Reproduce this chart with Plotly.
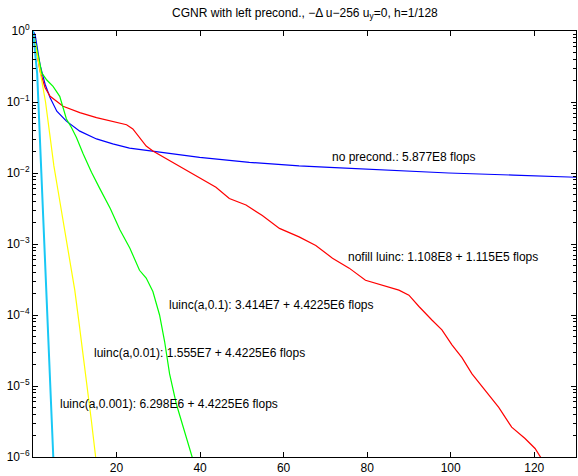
import plotly.graph_objects as go

# ---- data (iteration, log10 of relative residual) ----
blue_it = [0, 0.5, 1.7, 2.9, 4.1, 5.7, 8.0, 11.2, 15.2, 19.1, 23.1, 27.9, 35.1, 39.9, 51.8, 63.7, 71.0, 85.0, 99.5, 115.0, 130.0]
blue_lg = [0, -0.05, -0.48, -0.75, -0.94, -1.13, -1.27, -1.41, -1.52, -1.59, -1.65, -1.69, -1.74, -1.78, -1.85, -1.90, -1.92, -1.96, -2.00, -2.03, -2.06]

red_it = [0, 0.6, 1.7, 2.9, 4.1, 7.2, 11.2, 15.2, 19.2, 22.4, 23.9, 25.5, 27.1, 28.7, 31.1, 35.1, 39.9, 43.8, 47.0, 51.0,
          54.9, 59.0, 63.7, 67.7, 71.7, 75.7, 79.6, 83.6, 87.6, 90.0, 92.4, 95.5, 97.9, 100.3, 102.7, 105.1, 108.3,
          111.5, 114.6, 117.8, 120.2, 121.6, 122.5]
red_lg = [0, -0.2, -0.57, -0.80, -0.92, -1.06, -1.15, -1.22, -1.28, -1.32, -1.38, -1.50, -1.62, -1.69, -1.77, -1.90, -2.06,
          -2.20, -2.36, -2.45, -2.60, -2.78, -2.90, -3.02, -3.20, -3.34, -3.51, -3.58, -3.65, -3.72, -3.88, -4.07, -4.21,
          -4.42, -4.60, -4.83, -5.07, -5.30, -5.58, -5.74, -5.88, -6.01, -6.2]

green_it = [0, 1.3, 2.1, 3.3, 4.8, 6.4, 7.2, 8.0, 9.2, 10.4, 12.0, 14.0, 16.0, 18.5, 20.8, 23.2, 25.5, 27.1, 28.7,
            30.3, 31.5, 32.7, 34.3, 36.3, 38.1, 38.8]
green_lg = [0, -0.38, -0.59, -0.69, -0.78, -0.92, -1.08, -1.24, -1.36, -1.50, -1.73, -1.99, -2.22, -2.50, -2.80,
            -3.06, -3.37, -3.48, -3.67, -4.00, -4.37, -4.83, -5.25, -5.63, -6.00, -6.15]

yellow_it = list(range(0, 17))
yellow_lg = [0, -0.35, -0.70, -1.00, -1.45, -1.90, -2.25, -2.60, -2.95, -3.30, -3.65, -4.10, -4.55, -5.00, -5.50, -6.00, -6.50]

cyan_it = [0, 1, 2, 3, 4, 5]
cyan_lg = [0, -0.6, -2.0, -3.4, -4.8, -6.2]

x_ticks = [20, 40, 60, 80, 100, 120]
y_exps = [0, -1, -2, -3, -4, -5, -6]

labels = [
    ("no precond.: 5.877E8 flops", 71.1, -1.77),
    ("nofill luinc: 1.108E8 + 1.115E5 flops", 74.9, -3.19),
    ("luinc(a,0.1): 3.414E7 + 4.4225E6 flops", 32.0, -3.86),
    ("luinc(a,0.01): 1.555E7 + 4.4225E6 flops", 14.1, -4.53),
    ("luinc(a,0.001): 6.298E6 + 4.4225E6 flops", 6.0, -5.25),
]

FONT = "Liberation Sans, Arial, Helvetica, sans-serif"

series = [
    (blue_it, blue_lg, "#0000ff", 1.2),
    (red_it, red_lg, "#ff0000", 1.2),
    (green_it, green_lg, "#00ff00", 1.2),
    (yellow_it, yellow_lg, "#ffff00", 1.2),
    (cyan_it, cyan_lg, "#19c8f5", 2.0),
]

fig = go.Figure()
for xs, lg, col, w in series:
    fig.add_trace(go.Scatter(x=xs, y=[10 ** v for v in lg], mode="lines",
                             line=dict(color=col, width=w), showlegend=False,
                             hoverinfo="skip"))

for txt, xv, yv in labels:
    fig.add_annotation(x=xv, y=yv, text=txt, showarrow=False, xanchor="left",
                       yanchor="middle", font=dict(family=FONT, size=12, color="black"))

minor_vals = [k * 10.0 ** d for d in range(-6, 0) for k in range(2, 10)]

fig.update_layout(
    width=578, height=476,
    margin=dict(l=33, r=1, t=31, b=16),
    paper_bgcolor="white", plot_bgcolor="white",
    title=dict(text="CGNR with left precond., \u2212\u0394 u\u2212256 u<sub>y</sub>=0, h=1/128",
               x=0.5276, xanchor="center", y=0.974, yref="container",
               yanchor="middle", font=dict(family=FONT, size=12, color="black")),
    font=dict(family=FONT, size=12, color="black"),
)
fig.update_xaxes(range=[0, 130], showgrid=False, zeroline=False, showline=True, linecolor="black",
                 linewidth=1, mirror="ticks", ticks="inside", ticklen=5, tickcolor="black",
                 tickmode="array", tickvals=x_ticks, ticktext=[str(v) for v in x_ticks],
                 tickfont=dict(family=FONT, size=12, color="black"))
fig.update_yaxes(type="log", range=[-6, 0], showgrid=False, zeroline=False, showline=True,
                 linecolor="black", linewidth=1, mirror="ticks", ticks="inside", ticklen=5,
                 tickcolor="black", tickmode="array", tickvals=[10.0 ** e for e in y_exps],
                 ticktext=["10<sup>%s</sup>" % (str(e).replace("-", "\u2212")) for e in y_exps],
                 tickfont=dict(family=FONT, size=12, color="black"),
                 minor=dict(tickmode="array", tickvals=minor_vals, ticks="inside", ticklen=3,
                            tickcolor="black", showgrid=False))

fig.write_html("out.html")
